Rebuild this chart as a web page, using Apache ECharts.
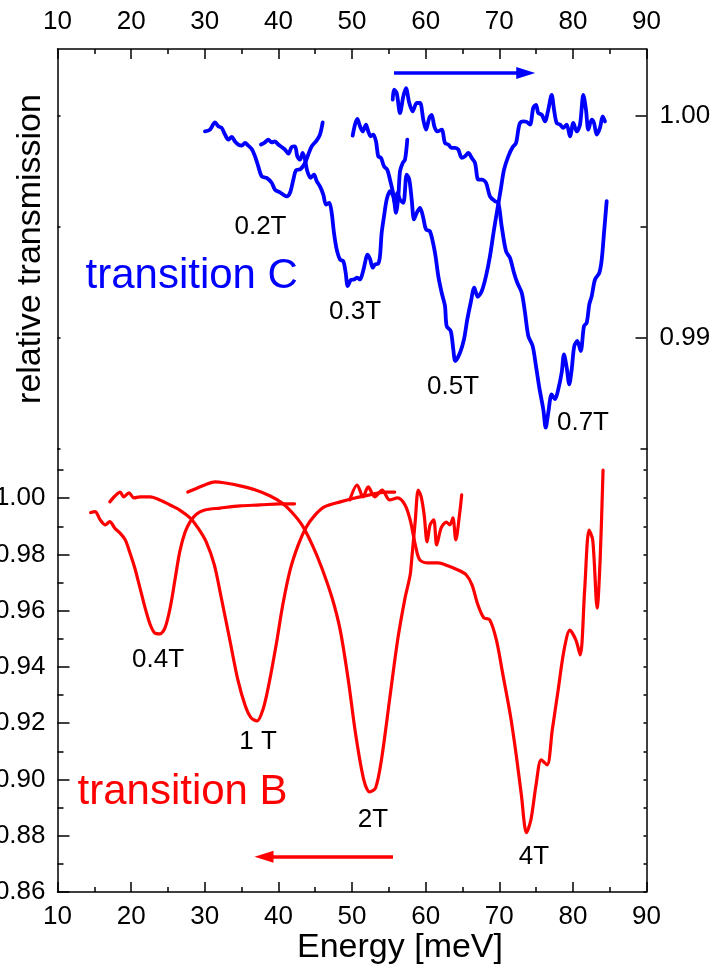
<!DOCTYPE html>
<html><head><meta charset="utf-8">
<script src="https://cdn.jsdelivr.net/npm/echarts@6.0.0/dist/echarts.min.js"></script>
<style>html,body{margin:0;padding:0;background:#fff}#c{width:713px;height:973px}</style>
</head><body><div id="c"></div>
<script>
// ---------- tick values ----------
const xTickValues = [10,20,30,40,50,60,70,80,90];
const topMajorTicks = [0.99, 1.00];
const topMinorTicks = [0.985, 0.995];
const topMirrorTicks = [0.985, 0.99, 0.995, 1.00];
const bottomMajorTicks = [0.86,0.88,0.90,0.92,0.94,0.96,0.98,1.00];
const bottomMinorTicks = [0.87,0.89,0.91,0.93,0.95,0.97,0.99,1.01];
const bottomMirrorTicks = [0.86,0.87,0.88,0.89,0.90,0.91,0.92,0.93,0.94,0.95,0.96,0.97,0.98,0.99,1.00,1.01];

// ---------- transition C (top panel) ----------
const c02T = [[30.03,0.99929],[30.71,0.99937],[31.39,0.99970],[31.84,0.99952],[32.30,0.99945],[32.75,0.99915],[33.20,0.99892],[33.66,0.99904],[34.11,0.99884],[34.56,0.99870],[35.02,0.99865],[35.47,0.99877],[35.92,0.99865],[36.38,0.99850],[36.83,0.99817],[37.27,0.99772],[37.74,0.99727],[38.41,0.99720],[39.09,0.99698],[39.54,0.99667],[40.22,0.99655],[41.13,0.99637],[41.58,0.99653],[42.03,0.99712],[42.39,0.99754],[43.03,0.99760],[43.62,0.99787],[44.06,0.99825],[44.53,0.99862],[45.21,0.99889],[45.65,0.99915],[46.02,0.99970]];
const c03T = [[37.64,0.99870],[38.18,0.99880],[38.63,0.99892],[39.09,0.99880],[39.54,0.99884],[39.99,0.99870],[40.45,0.99859],[40.90,0.99847],[41.35,0.99829],[41.81,0.99859],[42.26,0.99862],[42.57,0.99817],[42.94,0.99802],[43.30,0.99832],[43.62,0.99802],[43.93,0.99750],[44.39,0.99720],[44.84,0.99735],[45.21,0.99705],[45.65,0.99682],[46.10,0.99645],[46.47,0.99600],[46.92,0.99608],[47.24,0.99563],[47.55,0.99473],[47.92,0.99398],[48.37,0.99353],[48.82,0.99345],[49.14,0.99293],[49.42,0.99233],[49.82,0.99260],[50.27,0.99263],[50.72,0.99271],[51.09,0.99263],[51.45,0.99293],[51.77,0.99338],[52.08,0.99375],[52.44,0.99356],[52.81,0.99316],[53.12,0.99330],[53.57,0.99335],[53.80,0.99368],[54.03,0.99473],[54.35,0.99547],[54.71,0.99622],[55.16,0.99660],[55.61,0.99637],[55.98,0.99563],[56.29,0.99637],[56.52,0.99750],[56.89,0.99787],[57.20,0.99802],[57.51,0.99892]];
const c05T = [[50.09,0.99910],[50.41,0.99960],[50.72,0.99985],[51.09,0.99952],[51.45,0.99929],[51.90,0.99960],[52.21,0.99929],[52.54,0.99907],[52.89,0.99915],[53.26,0.99884],[53.57,0.99817],[53.94,0.99810],[54.35,0.99772],[54.79,0.99757],[55.16,0.99712],[55.53,0.99660],[55.84,0.99608],[56.15,0.99653],[56.52,0.99622],[56.97,0.99608],[57.43,0.99735],[57.78,0.99712],[58.11,0.99622],[58.42,0.99533],[58.79,0.99563],[59.24,0.99585],[59.68,0.99540],[60.05,0.99488],[60.59,0.99480],[61.27,0.99383],[61.72,0.99278],[62.18,0.99203],[62.63,0.99143],[62.86,0.99053],[63.41,0.99031],[63.76,0.98948],[64.03,0.98896],[64.67,0.98933],[65.21,0.98993],[65.66,0.99083],[66.12,0.99158],[66.61,0.99226],[67.07,0.99185],[67.62,0.99210],[68.20,0.99278],[68.74,0.99368],[69.29,0.99488],[69.74,0.99578],[70.20,0.99667],[70.65,0.99757],[71.23,0.99817],[71.83,0.99859],[72.28,0.99877],[72.59,0.99937],[72.82,0.99967],[73.27,0.99974],[73.73,0.99972],[74.18,0.99960],[74.62,1.00035],[74.99,1.00049],[75.30,1.00012],[75.77,1.00004],[76.21,0.99974],[76.66,1.00027],[77.12,1.00094],[77.44,1.00027],[77.80,0.99967],[78.25,0.99960],[78.70,0.99945],[79.16,0.99960],[79.61,0.99907],[80.06,0.99967],[80.52,0.99929],[80.97,0.99960],[81.42,1.00094],[81.78,1.00027],[82.10,0.99937],[82.56,0.99982],[82.87,0.99967],[83.24,0.99915],[83.68,0.99945],[84.05,0.99997],[84.36,0.99974]];
const c07T = [[55.53,1.00072],[55.71,1.00117],[56.07,1.00102],[56.52,1.00012],[56.97,1.00087],[57.33,1.00124],[57.78,1.00057],[58.24,1.00019],[58.79,1.00057],[59.24,1.00057],[59.68,0.99982],[60.05,0.99937],[60.50,0.99990],[60.82,1.00004],[61.18,0.99952],[61.59,0.99929],[62.18,0.99937],[62.63,0.99877],[63.08,0.99870],[63.54,0.99855],[63.99,0.99855],[64.44,0.99847],[64.90,0.99810],[65.35,0.99817],[65.80,0.99832],[66.26,0.99810],[66.71,0.99787],[67.15,0.99712],[67.62,0.99712],[68.20,0.99698],[68.74,0.99637],[69.42,0.99615],[69.87,0.99608],[70.33,0.99502],[70.92,0.99390],[71.46,0.99360],[72.00,0.99293],[72.45,0.99248],[73.05,0.99203],[73.50,0.99113],[73.95,0.99008],[74.54,0.98963],[74.99,0.98873],[75.44,0.98776],[75.98,0.98679],[76.31,0.98596],[76.66,0.98664],[77.12,0.98746],[77.57,0.98724],[78.02,0.98769],[78.48,0.98844],[78.79,0.98926],[79.16,0.98866],[79.51,0.98791],[79.84,0.98858],[80.19,0.98963],[80.60,0.98986],[81.06,0.98941],[81.51,0.99053],[81.88,0.99068],[82.23,0.99151],[82.56,0.99188],[83.01,0.99263],[83.59,0.99293],[83.92,0.99353],[84.23,0.99473],[84.59,0.99615]];

// ---------- transition B (bottom panel) ----------
const b04T = [[14.5,0.9949],[15.1,0.9952],[15.8,0.9923],[16.5,0.9905],[17.1,0.9917],[17.8,0.9893],[18.5,0.9876],[19.2,0.9852],[19.8,0.9809],[20.5,0.9752],[21.2,0.9681],[21.9,0.9610],[22.6,0.9550],[23.2,0.9521],[23.9,0.9518],[24.6,0.9539],[25.3,0.9610],[26.0,0.9717],[26.6,0.9809],[27.3,0.9877],[28.0,0.9916],[28.9,0.9944],[30.0,0.9958],[32.1,0.9965],[34.8,0.9973],[37.5,0.9976],[40.2,0.9980],[42.2,0.9980]];
const b1T = [[17.1,0.9987],[17.8,1.0008],[18.5,1.0022],[19.0,1.0005],[19.7,1.0019],[20.4,1.0001],[21.2,1.0005],[22.6,1.0005],[23.9,0.9994],[25.3,0.9976],[26.6,0.9958],[28.0,0.9930],[29.1,0.9894],[30.2,0.9845],[31.3,0.9763],[32.3,0.9639],[33.4,0.9497],[34.5,0.9354],[35.5,0.9262],[36.3,0.9219],[37.1,0.9208],[37.9,0.9248],[38.7,0.9337],[39.7,0.9479],[40.6,0.9621],[41.6,0.9745],[42.7,0.9834],[43.8,0.9898],[45.0,0.9941],[46.3,0.9970],[48.4,0.9987],[50.4,1.0001],[52.4,1.0012],[54.5,1.0022],[55.8,1.0022]];
const b2T = [[27.7,1.0022],[28.7,1.0033],[30.0,1.0047],[31.4,1.0058],[32.8,1.0054],[34.8,1.0044],[36.8,1.0030],[38.9,1.0008],[40.5,0.9983],[41.8,0.9951],[43.2,0.9905],[44.6,0.9834],[45.9,0.9752],[47.3,0.9645],[48.4,0.9531],[49.5,0.9353],[50.5,0.9160],[51.6,0.8999],[52.4,0.8956],[53.2,0.8970],[54.0,0.9070],[55.1,0.9283],[56.2,0.9496],[57.2,0.9645],[57.9,0.9727],[58.1,0.9780],[58.6,0.9922],[59.0,1.0029],[59.4,1.0005],[59.8,0.9941],[60.2,0.9845],[60.6,0.9905],[61.1,0.9923],[61.5,0.9834],[62.1,0.9894],[62.8,0.9915],[63.3,0.9905],[63.7,0.9930],[64.1,0.9852],[64.6,0.9941],[64.9,1.0012]];
const b4T = [[49.7,0.9994],[50.7,1.0047],[51.5,1.0005],[52.2,1.0040],[53.1,1.0005],[54.1,1.0029],[55.1,0.9994],[56.2,1.0001],[57.2,0.9976],[57.9,0.9923],[58.6,0.9834],[59.2,0.9781],[60.3,0.9770],[61.7,0.9770],[63.0,0.9760],[64.4,0.9745],[65.5,0.9728],[66.3,0.9692],[67.1,0.9621],[67.9,0.9575],[68.7,0.9568],[69.6,0.9497],[70.5,0.9372],[71.5,0.9230],[72.3,0.9088],[73.0,0.8946],[73.7,0.8811],[74.3,0.8857],[75.0,0.8981],[75.7,0.9070],[76.5,0.9052],[77.2,0.9176],[78.0,0.9318],[78.8,0.9460],[79.6,0.9531],[80.4,0.9496],[81.0,0.9443],[81.6,0.9674],[82.2,0.9887],[82.7,0.9851],[83.3,0.9609],[83.7,0.9780],[84.1,1.0100]];

// ---------- annotations: [text, energy, transmission] ----------
const topLabels = [['0.2T',37.57,0.99501],['0.3T',50.41,0.99119],['0.5T',63.72,0.98778],['0.7T',81.37,0.98620]];
const bottomLabels = [['0.4T',23.65,0.9426],['1 T',37.23,0.9134],['2T',52.85,0.8857],['4T',74.72,0.8725]];
const topTitle = ['transition C',13.74,0.99276];
const bottomTitle = ['transition B',12.65,0.8953];
// arrows: [startEnergy, endEnergy, transmission]
const blueArrow = [55.7, 73.6, 1.00192];
const redArrow = [55.57, 38.05, 0.87253];

const FONT = "'Liberation Sans', Arial, Helvetica, sans-serif";
const BLUE = '#0000ff', RED = '#ff0000', BLACK = '#000';

const chart = echarts.init(document.getElementById('c'), null, {renderer:'canvas'});

const lineAx = {show:true, onZero:false, lineStyle:{color:BLACK, width:1.5}};
function yAx(grid, pos, ticks, len, withLine, range, extra) {
  return Object.assign({
    type:'value', gridIndex:grid, position:pos, min:range[0], max:range[1],
    axisLine: withLine ? lineAx : {show:false},
    axisTick:{show:true, inside:true, length:len, customValues:ticks, lineStyle:{color:BLACK, width:1.5}},
    axisLabel:{show:false},
    splitLine:{show:false}
  }, extra || {});
}
const topRange = [0.985, 1.003];
const botRange = [0.86, 1.0175];

function xAx(grid, pos, extra) {
  return Object.assign({
    type:'value', gridIndex:grid, position:pos, min:10, max:90, interval:10,
    axisLine:lineAx,
    axisTick:{show:true, inside:true, length:10, lineStyle:{color:BLACK, width:1.5}},
    minorTick:{show:true, splitNumber:2, length:5, lineStyle:{color:BLACK, width:1.5}},
    axisLabel:{show:true, color:BLACK, fontSize:26, fontFamily:FONT, margin:pos==='top'?14:12},
    splitLine:{show:false}, minorSplitLine:{show:false}
  }, extra || {});
}

function curve(data, color, xi, yi, w, extra) {
  return Object.assign({type:'line', data, xAxisIndex:xi, yAxisIndex:yi, showSymbol:false, symbol:'none',
    smooth:0.3, silent:true, z:3, lineStyle:{color, width:w, cap:'round', join:'round'}}, extra || {});
}
function arrowMark(a, color) {
  return {silent:true, symbol:['none','triangle'], symbolSize:[12,19], label:{show:false}, emphasis:{disabled:true},
    lineStyle:{color, width:3.5, type:'solid'}, animation:false,
    data:[[{coord:[a[0], a[2]], symbol:'none'},{coord:[a[1], a[2]]}]]};
}
function labelSeries(items, xi, yi, color, size, pos) {
  return {type:'scatter', xAxisIndex:xi, yAxisIndex:yi, symbolSize:1, silent:true, z:5,
    itemStyle:{color:'rgba(0,0,0,0)', opacity:1},
    label:{show:true, position:pos, distance:0, color, opacity:1, fontSize:size, fontFamily:FONT, formatter:p=>p.name},
    data: items.map(d=>({name:d[0], value:[d[1], d[2]]}))};
}

chart.setOption({
  animation:false,
  backgroundColor:'#fff',
  grid:[
    {left:57.5, right:66.5, top:49, height:400, outerBoundsMode:'none', containLabel:false},
    {left:57.5, right:66.5, top:449, height:443, outerBoundsMode:'none', containLabel:false}
  ],
  xAxis:[
    xAx(0,'top'),
    xAx(1,'bottom',{name:'Energy [meV]', nameLocation:'middle', nameGap:35,
      nameTextStyle:{color:BLACK, fontSize:34, fontFamily:FONT, padding:[0,0,0,96]}})
  ],
  yAxis:[
    // top panel (0..2)
    yAx(0,'right',topMajorTicks,11,true,topRange,{axisLabel:{show:true, customValues:topMajorTicks, color:BLACK, fontSize:26, fontFamily:FONT, margin:13, formatter:v=>v.toFixed(2)}}),
    yAx(0,'right',topMinorTicks,6,false,topRange),
    yAx(0,'left',topMirrorTicks,3,true,topRange,{name:'relative transmission', nameLocation:'middle', nameRotate:90, nameGap:10,
      nameTextStyle:{color:BLACK, fontSize:34, fontFamily:FONT}}),
    // bottom panel (3..5)
    yAx(1,'left',bottomMajorTicks,12,true,botRange,{axisLabel:{show:true, customValues:bottomMajorTicks, color:BLACK, fontSize:26, fontFamily:FONT, margin:12, formatter:v=>v.toFixed(2)}}),
    yAx(1,'left',bottomMinorTicks,6,false,botRange),
    yAx(1,'right',bottomMirrorTicks,3,true,botRange)
  ],
  series:[
    curve(c02T,BLUE,0,0,3.8),
    curve(c03T,BLUE,0,0,3.8),
    curve(c05T,BLUE,0,0,3.8),
    curve(c07T,BLUE,0,0,3.8,{markLine:arrowMark(blueArrow,BLUE)}),
    curve(b04T,RED,1,3,3.2),
    curve(b1T,RED,1,3,3.2),
    curve(b2T,RED,1,3,3.2),
    curve(b4T,RED,1,3,3.2,{markLine:arrowMark(redArrow,RED)}),
    labelSeries(topLabels,0,0,BLACK,26,'inside'),
    labelSeries(bottomLabels,1,3,BLACK,26,'inside'),
    labelSeries([topTitle],0,0,BLUE,42,'right'),
    labelSeries([bottomTitle],1,3,RED,42,'right')
  ]
});
</script></body></html>
